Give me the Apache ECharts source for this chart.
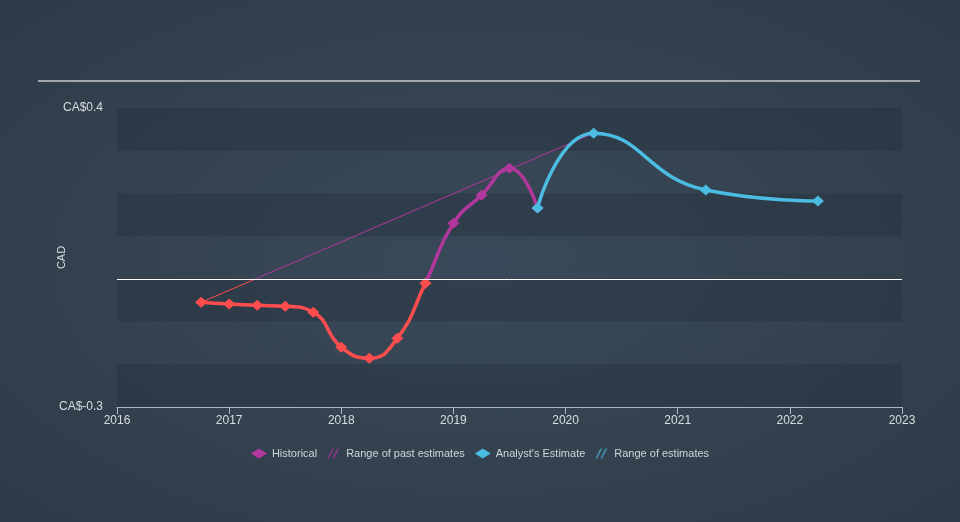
<!DOCTYPE html>
<html>
<head>
<meta charset="utf-8">
<script src="https://cdn.jsdelivr.net/npm/echarts@6/dist/echarts.min.js"></script>
<style>
html,body{margin:0;padding:0;width:960px;height:522px;overflow:hidden;}
body{background:radial-gradient(ellipse at 50% 50%, #3a4959 0%, #34424f 55%, #2d3a48 100%);}
#c{width:960px;height:522px;}
</style>
</head>
<body>
<div id="c"></div>
<script>
// Historical EPS (decimal year, CAD)
var histX = [2016.75, 2017.0, 2017.25, 2017.5, 2017.75, 2018.0, 2018.25, 2018.5, 2018.75, 2019.0, 2019.25, 2019.5, 2019.75];
var histY = [-0.055, -0.059, -0.062, -0.064, -0.078, -0.160, -0.186, -0.139, -0.010, 0.130, 0.196, 0.259, 0.166];
// Analyst estimates
var estX = [2019.75, 2020.25, 2021.25, 2022.25];
var estY = [0.166, 0.341, 0.208, 0.182];
// Range of past estimates (thin line)
var rangeX = [2016.75, 2020.25];
var rangeY = [-0.055, 0.341];
// Axis ticks
var yearTicks = [2016, 2017, 2018, 2019, 2020, 2021, 2022, 2023];
var yMin = -0.3, yMax = 0.4;

function zip(a, b) { return a.map(function (x, i) { return [x, b[i]]; }); }

var RED = '#ff4d4d', MAG = '#b2379c', BLUE = '#4bbde3';
var diamond = 'path://M0,5 L8,0 L16,5 L8,10 Z';
var ptDiamond = 'path://M0,6 L6,0 L12,6 L6,12 Z';
var hatch = 'path://M0,10 L5,0 L7,0 L2,10 Z M5,10 L10,0 L12,0 L7,10 Z';

var chart = echarts.init(document.getElementById('c'));
chart.setOption({
  animation: false,
  backgroundColor: 'transparent',
  textStyle: { fontFamily: 'Liberation Sans, Arial, sans-serif' },
  graphic: [{
    type: 'line', shape: { x1: 38, y1: 81, x2: 920, y2: 81 },
    style: { stroke: '#c9cdd2', lineWidth: 1.5 }, silent: true
  }],
  grid: { left: 117, right: 58, top: 108, bottom: 115 },
  legend: {
    bottom: 58, left: 'center', itemGap: 10, itemWidth: 16, itemHeight: 10,
    textStyle: { color: '#d0d4d8', fontSize: 11 },
    data: [
      { name: 'Historical', icon: diamond, itemStyle: { color: MAG } },
      { name: 'Range of past estimates', icon: hatch, itemStyle: { color: 'rgba(178,55,156,0.6)' } },
      { name: "Analyst's Estimate", icon: diamond, itemStyle: { color: BLUE } },
      { name: 'Range of estimates', icon: hatch, itemStyle: { color: 'rgba(75,189,227,0.6)' } }
    ],
    selectedMode: false
  },
  visualMap: [{
    show: false, type: 'piecewise', dimension: 1, seriesIndex: [0, 1],
    pieces: [{ gt: -1, lte: 0, color: RED }, { gt: 0, lte: 1, color: MAG }],
    outOfRange: { color: MAG }
  }],
  xAxis: {
    type: 'value', min: 2016, max: 2023, interval: 1,
    axisLine: { onZero: false, lineStyle: { color: '#aeb8c2', width: 1 } },
    axisTick: { show: true, length: 7, lineStyle: { color: '#aeb8c2' } },
    axisLabel: { color: '#d8dce0', fontSize: 12, margin: 8, formatter: function (v) { return yearTicks.indexOf(v) >= 0 ? String(v) : ''; } },
    splitLine: { show: false }
  },
  yAxis: {
    type: 'value', min: yMin, max: yMax, interval: 0.1,
    name: 'CAD', nameLocation: 'middle', nameGap: 50, nameRotate: 90, nameMoveOverlap: false,
    nameTextStyle: { color: '#d8dce0', fontSize: 11 },
    axisLine: { show: false }, axisTick: { show: false },
    axisLabel: {
      color: '#d8dce0', fontSize: 12, margin: 14,
      formatter: function (v) {
        if (Math.abs(v - yMax) < 1e-6) return 'CA$0.4';
        if (Math.abs(v - yMin) < 1e-6) return 'CA$-0.3';
        return '';
      }
    },
    splitLine: { show: false },
    splitArea: { show: true, areaStyle: { color: ['rgba(30,40,52,0.3)', 'rgba(0,0,0,0)'] } }
  },
  series: [
    {
      name: 'Range of past estimates', type: 'line', data: zip(rangeX, rangeY),
      symbol: 'none', lineStyle: { width: 1 }, z: 1, silent: true
    },
    {
      name: 'Historical', type: 'line', data: zip(histX, histY), smooth: 0.5,
      symbol: ptDiamond, symbolSize: [12, 11], lineStyle: { width: 3.5 }, z: 3,
      markLine: {
        silent: true, symbol: 'none', label: { show: false },
        lineStyle: { color: '#ffffff', width: 1, type: 'solid' },
        data: [{ yAxis: 0 }]
      }
    },
    {
      name: "Analyst's Estimate", type: 'line', data: zip(estX, estY), smooth: 0.5,
      symbol: ptDiamond, symbolSize: [12, 11], itemStyle: { color: BLUE },
      lineStyle: { width: 3.5, color: BLUE }, z: 4
    },
    { name: 'Range of estimates', type: 'line', data: [], itemStyle: { color: BLUE } }
  ]
});
</script>
</body>
</html>
